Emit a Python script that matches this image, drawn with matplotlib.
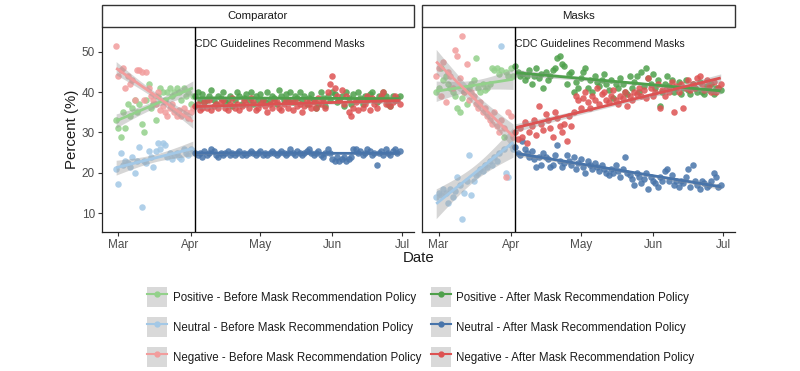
import numpy as np
import pandas as pd
import matplotlib
matplotlib.use("Agg")
import matplotlib.pyplot as plt
import matplotlib.dates as mdates
from matplotlib.lines import Line2D
from matplotlib.patches import Patch, Rectangle
from matplotlib.legend_handler import HandlerTuple

plt.rcParams['font.family'] = ['Liberation Sans', 'DejaVu Sans']

# dates: before / after the CDC mask recommendation
dates_before = pd.date_range('2020-02-29', '2020-04-02')
dates_after = pd.date_range('2020-04-03', '2020-06-30')
policy_date = pd.Timestamp('2020-04-03')

panels = ["Comparator", "Masks"]

# Comparator
comp_pos_before = [33, 31, 29, 35, 31, 37, 34, 36, 38, 35, 37, 32, 30, 38, 42, 36, 37, 33, 39, 41,
                   40, 38, 40, 41, 39, 40, 41, 40, 38, 41, 39, 40, 37, 39]
comp_neu_before = [21, 17.3, 25, 22, 23, 22.5, 21.5, 24, 20, 23, 26.5, 11.5, 23, 22.5, 25.5, 24, 21.5,
                   25.5, 27.5, 26, 27.5, 27, 24, 25, 23.5, 24.5, 25, 24, 23.5, 26, 25, 24.5, 26, 25.5]
comp_neg_before = [51.5, 44, 45.5, 46, 41, 44, 42, 43, 38, 45.5, 45.5, 45, 38, 45, 41, 39, 38, 37, 40,
                   35.5, 36.5, 35, 34, 36, 37, 35, 34, 35.5, 34, 36, 35, 33.5, 35, 36]

comp_pos_after = [39, 40, 38, 39.5, 37.5, 38, 39, 40.5, 38, 37,
                  39, 38.5, 40, 37.5, 38, 39, 36.5, 38, 40, 39,
                  37, 38.5, 39.5, 38, 40, 37, 39, 38, 39.5, 38,
                  37.5, 40, 38, 39, 38.5, 37, 40.5, 39, 38, 39.5,
                  38, 40, 37.5, 39, 38.5, 40, 38, 39, 37, 38.5,
                  39.5, 38, 36, 37, 40, 38.5, 36.5, 39, 38, 40,
                  39.5, 37.5, 38, 39, 36.5, 40, 38.5, 37, 39.5, 38,
                  40, 38.5, 37, 39, 38, 39.5, 40, 38, 37.5, 39,
                  38.5, 40, 39, 37, 36.5, 39, 38, 38.5, 39]
comp_neg_after = [36.5, 37, 35.5, 36, 37.5, 36, 38, 35.5, 36.5, 37,
                  36, 37.5, 38, 36, 35.5, 37, 38.5, 36, 37, 35.5,
                  36.5, 38, 37, 36, 38.5, 37.5, 35.5, 36, 37, 38,
                  36.5, 35, 37, 36, 38, 37.5, 36, 35.5, 37, 38,
                  36, 37.5, 35.5, 38, 36.5, 37, 35, 36.5, 38, 37,
                  36, 37.5, 36, 38.5, 37, 38, 36, 40, 42, 44,
                  41, 39, 38, 40.5, 37, 39, 35, 34, 36, 37.5,
                  35.5, 38, 36, 37, 39, 35.5, 38.5, 37, 36, 38,
                  39, 40, 37, 38, 36.5, 37.5, 39, 38, 37]
comp_neu_after = [25, 24.5, 25, 24, 25.5, 24.5, 25, 26, 25.5, 24.5,
                  24, 25, 24.5, 25, 25.5, 24.5, 25, 24.5, 25, 25.5,
                  24.5, 25, 24.5, 25, 25.5, 25, 24.5, 25, 25.5, 24.5,
                  25, 24.5, 25, 25.5, 25, 24.5, 25, 25.5, 25, 24.5,
                  25, 26, 25, 24.5, 25.5, 25, 24.5, 25, 25.5, 26,
                  25, 24.5, 25, 25.5, 24.5, 24, 25, 26, 25, 23.5,
                  23, 24, 23, 23.5, 24, 23, 23.5, 24, 26, 26,
                  25, 25.5, 24.5, 25, 26, 25.5, 24.5, 25, 22, 25,
                  25.5, 24.5, 26, 25, 24.5, 25.5, 26, 25, 25.5]

# Masks
masks_pos_before = [40, 41, 46, 43, 44, 42, 41, 40, 39, 36, 35, 38.5, 40, 37, 41, 42, 43, 48.5, 41,
                    40, 42, 40.5, 41, 42, 46, 45.5, 46, 44.5, 45.5, 29, 45, 44, 46, 44]
masks_neu_before = [14, 15, 14.5, 16, 15, 12.5, 16, 14, 15.5, 19, 17, 8.5, 15, 18, 24.5, 14.5, 18,
                    19.5, 20, 21, 20.5, 22, 21.5, 23, 22, 24, 23, 25, 51.5, 26, 20, 19, 27, 26]
masks_neg_before = [44, 46, 39, 47.5, 37.5, 45, 44, 41, 50.5, 49, 43.5, 54, 40, 47, 38, 40, 39, 37,
                    36, 37.5, 35, 36, 34, 33, 32, 35, 31.5, 30, 33, 31, 19, 35, 34, 29]

masks_pos_after = [46.5, 45, 44, 44.5, 43, 44, 45.5, 42, 44, 46,
                   43.5, 44.5, 41, 45, 43, 44, 45.5, 46, 48.5, 49,
                   47, 46.5, 42, 44.5, 45, 40, 42.5, 41, 43.5, 45,
                   46, 41, 43, 40, 44, 42.5, 41.5, 43, 44.5, 42,
                   40.5, 43, 38.5, 42, 41, 43.5, 42, 40, 39.5, 44,
                   41, 42.5, 44, 40, 45, 41.5, 46, 43.5, 42, 44.5,
                   41, 43, 36.5, 40, 42, 44, 41.5, 43, 40, 41,
                   42.5, 39.5, 41, 43, 40.5, 39.5, 42, 41, 40, 42.5,
                   40, 39.5, 41.5, 40.5, 42, 39.5, 41, 41, 40.5]
masks_neg_after = [30, 28.5, 31, 29, 32.5, 27.5, 30, 31.5, 33, 29.5,
                   36.5, 32, 30.5, 34.5, 33, 31, 29, 35, 33.5, 31.5,
                   30, 32, 28, 34, 31.5, 35, 39, 38, 36, 38.5,
                   40, 37.5, 36, 39, 38, 41, 37, 39.5, 40, 38,
                   37.5, 39, 40.5, 38, 37, 39, 38.5, 40, 36.5, 39,
                   38, 40, 39.5, 41, 39, 40.5, 38.5, 43.5, 41, 39,
                   40, 42, 36, 40.5, 39, 41, 40, 42.5, 35, 41.5,
                   40, 42, 36, 41, 43, 40.5, 42, 41, 43.5, 44,
                   42, 40.5, 43, 41.5, 40, 42.5, 40, 41, 42]
masks_neu_after = [26.5, 25, 24.5, 28, 26, 25, 24, 25.5, 23.5, 21.5,
                   24, 22, 25, 24, 23.5, 21.5, 22, 24.5, 27, 23,
                   21.5, 22.5, 24.5, 23, 22, 24, 21, 22.5, 23.5, 21.5,
                   20, 23, 22, 21, 22.5, 21.5, 20.5, 22, 21, 20,
                   19.5, 21, 20, 22, 20.5, 19, 21, 24, 20, 19.5,
                   18.5, 17, 20, 19, 17.5, 18.5, 20, 16, 19, 18,
                   17.5, 16.5, 19, 18, 20.5, 21, 18, 19.5, 17, 18,
                   16.5, 18, 17.5, 19, 21, 16.5, 22, 18, 17, 16,
                   18, 17.5, 16.5, 17, 18, 20, 19, 16.5, 17]

series_names = ["Positive - Before Mask Recommendation Policy",
                "Neutral - Before Mask Recommendation Policy",
                "Negative - Before Mask Recommendation Policy",
                "Positive - After Mask Recommendation Policy",
                "Neutral - After Mask Recommendation Policy",
                "Negative - After Mask Recommendation Policy"]
series_colors = ['#93D18B', '#A3C8E6', '#F29D9D', '#4EA04B', '#4874AA', '#DD5252']

panel_data = {
    "Comparator": [comp_pos_before, comp_neu_before, comp_neg_before,
                   comp_pos_after, comp_neu_after, comp_neg_after],
    "Masks": [masks_pos_before, masks_neu_before, masks_neg_before,
              masks_pos_after, masks_neu_after, masks_neg_after],
}


def add_fit(ax, d, y, color):
    # linear fit + 95% band like geom_smooth(method = "lm")
    xn = mdates.date2num(d)
    y = np.asarray(y, dtype=float)
    slope, icpt = np.polyfit(xn, y, 1)
    fit = icpt + slope * xn
    n = len(y)
    s = np.sqrt(np.sum((y - fit) ** 2) / (n - 2))
    se = s * np.sqrt(1 / n + (xn - xn.mean()) ** 2 / np.sum((xn - xn.mean()) ** 2))
    ax.fill_between(d, fit - 2.0 * se, fit + 2.0 * se, color='#999999', alpha=0.4, lw=0, zorder=3)
    ax.plot(d, fit, color=color, lw=2, zorder=4, solid_capstyle='butt')


fig = plt.figure(figsize=(8, 3.71), dpi=100)
ax_pos = [[0.1275, 0.3747, 0.39, 0.5526], [0.5275, 0.3747, 0.39125, 0.5526]]

for i, name in enumerate(panels):
    ax = fig.add_axes(ax_pos[i])
    vals = panel_data[name]
    for j in range(6):
        d = dates_before if j < 3 else dates_after
        ax.scatter(d, vals[j], s=22, color=series_colors[j], alpha=0.85, lw=0, zorder=2)
    for j in range(6):
        d = dates_before if j < 3 else dates_after
        add_fit(ax, d, vals[j], series_colors[j])

    ax.axvline(policy_date, color='black', lw=1, zorder=5)
    ax.text(policy_date, 52, "CDC Guidelines Recommend Masks", fontsize=7.5,
            color='#1A1A1A', ha='left', va='center', zorder=6)

    ax.set_xlim(pd.Timestamp('2020-02-22 22:00'), pd.Timestamp('2020-07-06 03:00'))
    ax.set_ylim(5.3, 56.2)
    ax.set_yticks([10, 20, 30, 40, 50])
    ax.xaxis.set_major_locator(mdates.MonthLocator())
    ax.xaxis.set_major_formatter(mdates.DateFormatter('%b'))
    ax.spines['top'].set_visible(False)
    ax.spines['right'].set_visible(False)
    for sp in ['left', 'bottom']:
        ax.spines[sp].set_linewidth(0.9)
        ax.spines[sp].set_color('#222222')
    ax.tick_params(axis='both', length=3, width=0.8, color='#333333',
                   labelsize=8.5, labelcolor='#4D4D4D', pad=2)
    if i == 1:
        ax.tick_params(axis='y', left=False, labelleft=False)
    else:
        ax.set_ylabel("Percent (%)", fontsize=10.8, color='#1A1A1A', labelpad=2)

    # facet strip
    ax.add_patch(Rectangle((0, 1.0), 1, 0.107, transform=ax.transAxes, facecolor='white',
                           edgecolor='#333333', lw=1, clip_on=False))
    ax.text(0.5, 1.0535, name, transform=ax.transAxes, ha='center', va='center',
            fontsize=8.2, color='#1A1A1A')

fig.text(0.523, 0.305, "Date", ha='center', va='center', fontsize=10.8, color='#1A1A1A')

handles = [(Patch(facecolor='#D9D9D9', edgecolor='none'),
            Line2D([], [], color=c, lw=1.5, marker='o', markersize=3.5)) for c in series_colors]
fig.legend(handles, series_names, ncol=2, loc='center', bbox_to_anchor=(0.526, 0.118),
           frameon=False, fontsize=8.3, handler_map={tuple: HandlerTuple(ndivide=1, pad=0)},
           handlelength=1.75, handleheight=2.3, handletextpad=0.5, columnspacing=0.8,
           labelspacing=0.85, labelcolor='#1A1A1A', borderaxespad=0, borderpad=0)

fig.savefig('out.png', dpi=100)
